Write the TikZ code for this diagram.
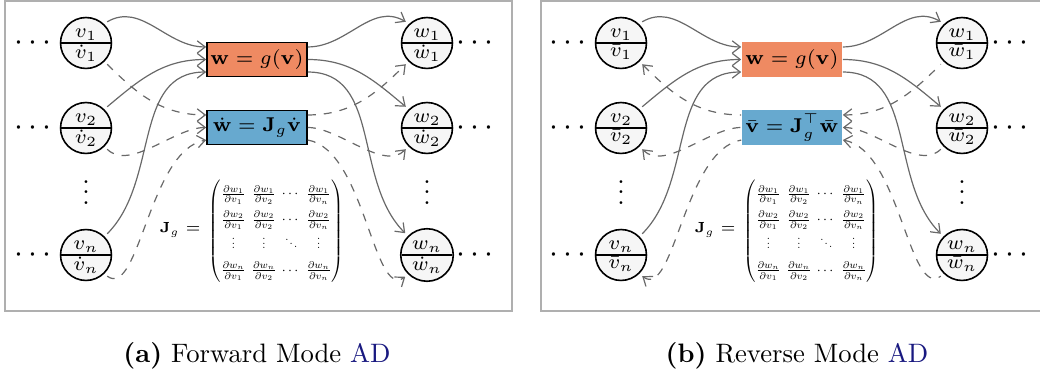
\RequirePackage{fix-cm}
\documentclass[tikz,border=0pt]{standalone}
\usepackage{amsmath}
\usetikzlibrary{shapes.multipart,arrows.meta}
\definecolor{fcol}{HTML}{EF8A62}
\definecolor{gcol}{HTML}{67A9CF}
\definecolor{arrgray}{RGB}{105,105,105}
\definecolor{framegray}{RGB}{175,175,175}
\definecolor{adblue}{RGB}{25,25,128}
\newcommand\mvd{\scalebox{0.8}{$\vdots$}}
\newcommand\mdd{\scalebox{0.8}{$\ddots$}}
\newcommand\jacmat{\scalebox{0.53}{\renewcommand\arraystretch{1.5}$\left(\begin{array}{@{}c@{\hspace{3.8pt}}c@{\hspace{3.8pt}}c@{\hspace{3.8pt}}c@{}}
    \frac{\partial w_1}{\partial v_1} & \frac{\partial w_1}{\partial v_2} & \cdots & \frac{\partial w_1}{\partial v_n}\\
    \frac{\partial w_2}{\partial v_1} & \frac{\partial w_2}{\partial v_2} & \cdots & \frac{\partial w_2}{\partial v_n}\\
    \mvd & \mvd & \mdd & \mvd\\
    \frac{\partial w_n}{\partial v_1} & \frac{\partial w_n}{\partial v_2} & \cdots & \frac{\partial w_n}{\partial v_n}
  \end{array}\right)$}}
\newcommand\adpanel[2]{%
  \node[vnode] (v1) at (86,-43) {$v_1$\nodepart{lower}$#1{v}_1$};
  \node[vnode] (v2) at (86,-128) {$v_2$\nodepart{lower}$#1{v}_2$};
  \node[vnode] (vn) at (86,-255) {$v_n$\nodepart{lower}$#1{v}_n$};
  \node[vnode] (w1) at (427,-43) {$w_1$\nodepart{lower}$#1{w}_1$};
  \node[vnode] (w2) at (427,-128) {$w_2$\nodepart{lower}$#1{w}_2$};
  \node[vnode] (wn) at (427,-255) {$w_n$\nodepart{lower}$#1{w}_n$};
  \node[hdotsnode] (lv1) at (35.5,-43) {$\cdots$};
  \node[hdotsnode] (lv2) at (35.5,-128) {$\cdots$};
  \node[hdotsnode] (lvn) at (35.5,-255) {$\cdots$};
  \node[hdotsnode] (rw1) at (477.5,-43) {$\cdots$};
  \node[hdotsnode] (rw2) at (477.5,-128) {$\cdots$};
  \node[hdotsnode] (rwn) at (477.5,-255) {$\cdots$};
  \node[vdotsnode] (vd) at (86,-204.5) {$\vdots$};
  \node[vdotsnode] (wd) at (427,-204.5) {$\vdots$};
  \node[fnode] (f) at (257,-59.5) {$\mathbf{w} = g(\mathbf{v})$};
  \node[gnode] (g) at (257,-127.5) {#2};
  \node[jlabel] (jl) at (180,-230) {$\mathbf{J}_g =$};
  \node[jmat] (jm) at (276,-231) {\jacmat};
  % solid: primal computation
  \draw[solidarr] (v1.45) to[out=30,in=180] ([yshift=4.7pt]f.west);
  \draw[solidarr] (v2.45) to[out=40,in=180] (f.west);
  \draw[solidarr] (vn.45) to[out=45,in=180] ([yshift=-4.7pt]f.west);
  \draw[solidarr] ([yshift=4.7pt]f.east) to[out=0,in=150] (w1.135);
  \draw[solidarr] (f.east) to[out=0,in=140] (w2.135);
  \draw[solidarr] ([yshift=-4.7pt]f.east) to[out=0,in=135] (wn.135);
  % dashed: derivative propagation
  \draw[dsh] (v1.-45) to[out=-45,in=180] ([yshift=4.7pt]g.west);
  \draw[dsh] (v2.-45) to[out=-45,in=180,looseness=0.8] (g.west);
  \draw[dsh] (vn.-45) .. controls +(32,-23) and +(-57,-10) .. ([yshift=-4.7pt]g.west);
  \draw[dsh] ([yshift=4.7pt]g.east) to[out=0,in=-135] (w1.-135);
  \draw[dsh] (g.east) to[out=0,in=-135,looseness=0.8] (w2.-135);
  \draw[dsh] ([yshift=-4.7pt]g.east) .. controls +(57,-10) and +(-32,-23) .. (wn.-135);
}
\begin{document}
\begin{tikzpicture}[x=0.375pt,y=0.375pt,
  vnode/.style={circle split, draw=black, line width=0.6pt, fill=gray!7,
    minimum size=19.1pt, inner sep=0.6pt, outer sep=1.7pt,
    font=\fontsize{7.5}{9}\selectfont},
  hdotsnode/.style={inner sep=0pt, font=\fontsize{12}{14}\selectfont},
  vdotsnode/.style={inner sep=0pt, anchor=base, font=\fontsize{10}{12}\selectfont},
  boxbase/.style={rectangle, minimum width=37.5pt, minimum height=12.8pt,
    inner sep=1pt, font=\fontsize{7.5}{9}\selectfont, line width=0.6pt},
  jlabel/.style={inner sep=0pt, font=\fontsize{5.5}{6.6}\selectfont},
  jmat/.style={inner sep=0pt, font=\fontsize{10}{12}\selectfont},
  solidarr/.style={draw=arrgray, line width=0.45pt, -{Straight Barb[length=3pt,width=4.6pt]}},
  dsharr/.style={draw=arrgray, line width=0.45pt, dash pattern=on 3pt off 3pt},
  frame/.style={draw=framegray, line width=0.75pt},
  caption/.style={anchor=base, inner sep=0pt, font=\fontsize{10}{12}\selectfont}
]
\useasboundingbox (0,0) rectangle (1040,-376);
\draw[frame] (5,-1) rectangle (512,-311);
\draw[frame] (541,-1) rectangle (1048,-311);
\begin{scope}[name prefix=a-,
  fnode/.style={boxbase, draw=black, fill=fcol},
  gnode/.style={boxbase, draw=black, fill=gcol},
  dsh/.style={dsharr, -{Straight Barb[length=3pt,width=4.6pt]}}]
  \adpanel{\dot}{$\dot{\mathbf{w}} = \mathbf{J}_g\dot{\mathbf{v}}$}
\end{scope}
\begin{scope}[shift={(535,0)}, name prefix=b-,
  fnode/.style={boxbase, fill=fcol},
  gnode/.style={boxbase, fill=gcol},
  dsh/.style={dsharr, {Straight Barb[length=3pt,width=4.6pt]}-}]
  \adpanel{\bar}{$\bar{\mathbf{v}} = \mathbf{J}_g^{\top}\bar{\mathbf{w}}$}
\end{scope}
\node[caption] (capa) at (257,-362) {\textbf{(a)} Forward Mode \textcolor{adblue}{AD}};
\node[caption] (capb) at (797,-362) {\textbf{(b)} Reverse Mode \textcolor{adblue}{AD}};
\end{tikzpicture}
\end{document}
